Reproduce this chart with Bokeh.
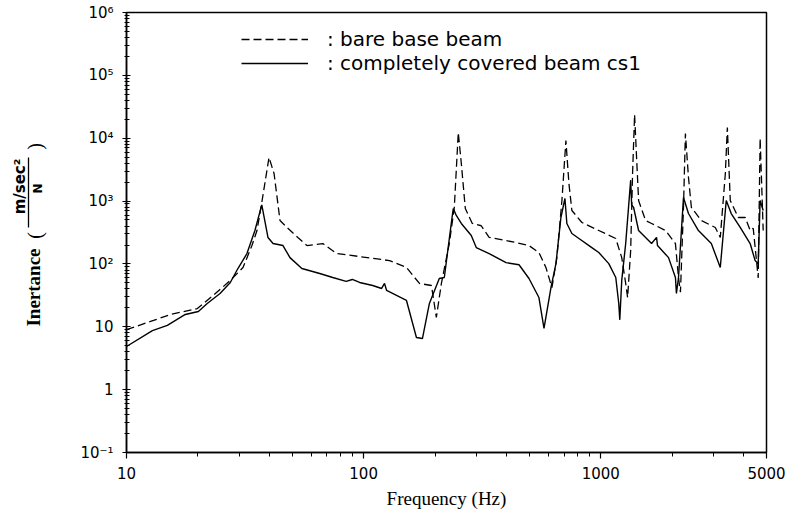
import math
from bokeh.plotting import figure
from bokeh.layouts import row
from bokeh.models import Range1d, FixedTicker, Legend, LegendItem
from bokeh.core.properties import value
from bokeh.embed import file_html
from bokeh.resources import INLINE

# ---- data ----
bare_freq = [10, 13.0, 15.3, 19.9, 23.2, 27.4, 31.0, 33.8, 35.5, 37.2,
             39.9, 41.9, 44.4, 47.5, 52.8, 57.7, 67.3, 77.1, 96.2, 128.6,
             151.6, 171.9, 193.2, 202.6, 212.8, 229.8, 241.2, 250.7, 258.2, 268.4,
             287.2, 313.3, 338.3, 398.8, 439.5, 498.1, 548.6, 587.2, 622.4, 653.1,
             685.8, 712.9, 734.1, 755.5, 832.8, 981, 1157, 1226, 1274, 1298,
             1337, 1362, 1389, 1416, 1444, 1546, 1638, 1875, 2065, 2127,
             2168, 2233, 2275, 2344, 2411, 2656, 3041, 3192, 3353, 3419,
             3517, 3802, 4067, 4266, 4395, 4613, 4700, 4842]
bare_val = [9.0, 12.6, 15.7, 19.5, 31.5, 54.6, 87.7, 196, 340, 950,
            4940, 2750, 491, 380, 264, 196, 211, 146, 131, 113,
            87.7, 48.9, 45.4, 14.1, 49, 211, 790, 12300, 3960, 762,
            440, 405, 264, 235, 219, 196, 152, 87.7, 42.1, 126,
            1020, 9200, 1900, 708, 456, 340, 254, 126, 49, 29.2,
            163, 2750, 23800, 4940, 1020, 490, 440, 340, 211, 60.9,
            35.5, 790, 11900, 2370, 790, 490, 380, 264, 2750, 14800,
            1020, 548, 548, 340, 370, 60, 10000, 340]

cov_freq = [10, 12.86, 14.87, 17.7, 20.1, 21.9, 24.8, 27.4, 29.5, 32.2,
            34.8, 37.2, 39.5, 41.5, 45.7, 48.9, 54.9, 65.3, 74.1, 84.4,
            89.6, 96.2, 109.2, 119.1, 122.5, 125.0, 151.6, 167.0, 177.0, 189.4,
            208.5, 218.9, 234.2, 238.8, 245.9, 258.2, 284.4, 298.5, 338.3, 398.8,
            452.2, 498.1, 548.6, 576.3, 616.6, 647.2, 679.2, 706.3, 719.5, 755.5,
            809, 917, 981, 1081, 1157, 1191, 1203, 1226, 1274, 1337,
            1350, 1376, 1444, 1638, 1719, 1735, 1931, 2065, 2085, 2127,
            2233, 2344, 2582, 2926, 3192, 3353, 3383, 3550, 3873, 4266,
            4477, 4613, 4700, 4842]
cov_val = [4.86, 8.7, 10.5, 15.7, 17.5, 23.5, 33.9, 50.7, 84.5, 146,
           340, 870, 264, 211, 196, 126, 84.5, 70.4, 60.9, 52.7,
           56.6, 50.7, 45.4, 40.7, 49, 37.8, 26.2, 6.76, 6.5, 23.5,
           58.7, 60.9, 440, 762, 590, 440, 283, 182, 146, 105,
           97, 58.7, 29.2, 9.4, 42, 101, 548, 1100, 440, 305,
           254, 182, 152, 101, 60.9, 23.5, 12.9, 54.6, 211, 2150,
           870, 790, 340, 211, 264, 196, 126, 60.9, 33.9, 60,
           1140, 634, 340, 211, 87.7, 708, 1020, 634, 380, 211,
           113, 101, 1020, 708]

x_ticks = [10, 100, 1000, 5000]
x_tick_labels = ["10", "100", "1000", "5000"]
x_minor = [20, 30, 40, 50, 60, 70, 80, 90,
           200, 300, 400, 500, 600, 700, 800, 900,
           2000, 3000, 4000]
y_ticks = [0.1, 1, 10, 100, 1000, 10000, 100000, 1000000]
y_tick_labels = ["10⁻¹", "1", "10", "10²", "10³", "10⁴", "10⁵", "10⁶"]
y_minor = [m * 10.0 ** e for e in range(-1, 6) for m in range(2, 10)]

legend_labels = [": bare base beam", ": completely covered beam cs1"]
x_label = "Frequency (Hz)"
y_label_main = "Inertance"
y_label_num = "m/sec²"
y_label_den = "N"

W_LAB = 60          # width of the strip that holds the y-axis title
H = 514
B_TOP, B_BOT = 12, 62

# ---- main chart ----
p = figure(width=790 - W_LAB, height=H, x_axis_type="log", y_axis_type="log",
           x_range=Range1d(10, 5000), y_range=Range1d(0.1, 1e6),
           output_backend="svg", toolbar_location=None, title=None,
           min_border_left=126 - W_LAB, min_border_right=24,
           min_border_top=B_TOP, min_border_bottom=B_BOT)
p.background_fill_color = "white"
p.border_fill_color = "white"
p.xgrid.visible = False
p.ygrid.visible = False
p.outline_line_color = "black"
p.outline_line_width = 1.5
p.outline_line_alpha = 1.0

p.xaxis.ticker = FixedTicker(ticks=x_ticks, minor_ticks=x_minor)
p.xaxis.major_label_overrides = dict(zip(x_ticks, x_tick_labels))
p.yaxis.ticker = FixedTicker(ticks=y_ticks, minor_ticks=y_minor)
p.yaxis.major_label_overrides = dict(zip(y_ticks, y_tick_labels))

for ax in (p.xaxis, p.yaxis):
    ax.axis_line_color = "black"
    ax.axis_line_width = 1.5
    ax.major_tick_line_color = "black"
    ax.minor_tick_line_color = "black"
    ax.major_tick_line_width = 1.2
    ax.minor_tick_line_width = 1
    ax.major_label_text_font = "DejaVu Sans"
    ax.major_label_text_font_size = "15px"
    ax.major_label_text_color = "black"

p.xaxis.major_tick_in = 0
p.xaxis.major_tick_out = 6
p.xaxis.minor_tick_in = 0
p.xaxis.minor_tick_out = 4
p.xaxis.major_label_standoff = 8
p.xaxis.axis_label = x_label
p.xaxis.axis_label_text_font = "Liberation Serif"
p.xaxis.axis_label_text_font_style = "normal"
p.xaxis.axis_label_text_font_size = "19px"
p.xaxis.axis_label_text_color = "black"
p.xaxis.axis_label_standoff = 6

p.yaxis.major_tick_in = 4
p.yaxis.major_tick_out = 4
p.yaxis.minor_tick_in = 3
p.yaxis.minor_tick_out = 2
p.yaxis.major_label_standoff = 9
p.yaxis.axis_label = None

r_bare = p.line(bare_freq, bare_val, line_color="black", line_width=1.3, line_dash="8 4")
r_cov = p.line(cov_freq, cov_val, line_color="black", line_width=1.4)

legend = Legend(items=[LegendItem(label=legend_labels[0], renderers=[r_bare]),
                       LegendItem(label=legend_labels[1], renderers=[r_cov])],
                location=(115, 377), orientation="vertical",
                border_line_color=None, background_fill_alpha=0,
                padding=0, margin=0, spacing=0,
                glyph_width=67, glyph_height=20, label_height=20,
                label_standoff=19, label_text_font="DejaVu Sans",
                label_text_font_size="20px", label_text_color="black")
p.add_layout(legend)

# ---- strip with the y-axis title: Inertance ( m/sec^2 / N ) ----
# its frame is aligned with the chart frame, so y below is H - (pixel row)
q = figure(width=W_LAB, height=H, x_range=Range1d(0, W_LAB), y_range=Range1d(B_BOT, H - B_TOP),
           output_backend="svg", toolbar_location=None, title=None,
           x_axis_location=None, y_axis_location=None,
           min_border_left=0, min_border_right=0,
           min_border_top=B_TOP, min_border_bottom=B_BOT)
q.outline_line_color = None
q.background_fill_color = "white"
q.border_fill_color = "white"
q.grid.visible = False
ang = math.pi / 2
q.text(x=[33], y=[H - 287], text=[y_label_main], angle=ang,
       text_align="center", text_baseline="middle",
       text_font=value("Liberation Serif"), text_font_style="bold",
       text_font_size="19px", text_color="black")
q.text(x=[34, 34], y=[H - 235, H - 146], text=["(", ")"], angle=ang,
       text_align="center", text_baseline="middle",
       text_font=value("Liberation Serif"), text_font_size="20px", text_color="black")
q.text(x=[19], y=[H - 186], text=[y_label_num], angle=ang,
       text_align="center", text_baseline="middle",
       text_font=value("DejaVu Sans"), text_font_style="bold",
       text_font_size="15px", text_color="black")
q.text(x=[37], y=[H - 188], text=[y_label_den], angle=ang,
       text_align="center", text_baseline="middle",
       text_font=value("DejaVu Sans"), text_font_style="bold",
       text_font_size="12px", text_color="black")
q.segment(x0=[28], y0=[H - 157], x1=[28], y1=[H - 227], line_color="black", line_width=1.3)

layout = row(q, p)
open("out.html", "w").write(file_html(layout, INLINE))
